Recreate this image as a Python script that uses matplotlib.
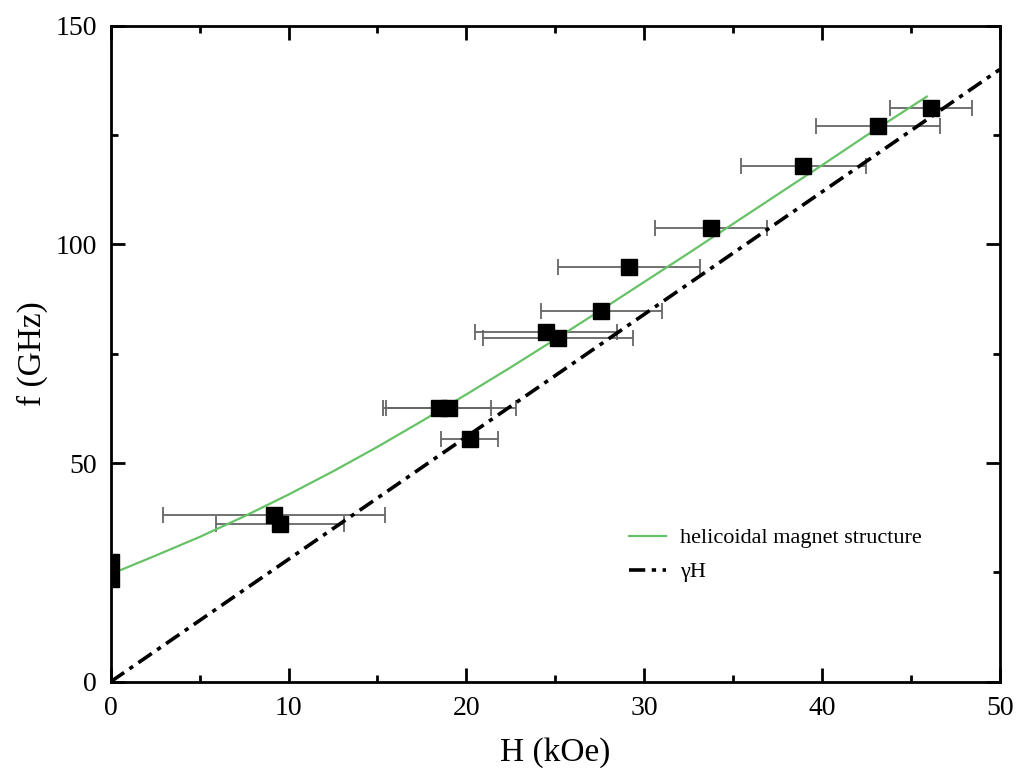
import numpy as np
import matplotlib
matplotlib.use("Agg")
import matplotlib.pyplot as plt

plt.rcParams['font.family'] = ['Liberation Serif', 'DejaVu Serif']

# measured points
H = [0, 0, 9.2, 9.5, 18.45, 19.05, 20.2, 24.5, 25.15, 27.6, 29.15, 33.75, 38.95, 43.15, 46.15]
f = [27.3, 23.4, 38.2, 36.1, 62.7, 62.7, 55.6, 79.9, 78.6, 84.8, 94.9, 103.8, 118.0, 127.0, 131.2]
H_err = [0, 0, 6.25, 3.6, 2.95, 3.75, 1.6, 4.0, 4.2, 3.4, 4.0, 3.15, 3.5, 3.5, 2.3]

# helicoidal structure curve
H_fit = [0, 2.5, 5, 7.5, 10, 12.5, 15, 17.5, 20, 22.5, 25, 27.5, 30, 32.5, 35, 37.5, 40, 42.5, 45.9]
f_fit = [24.6, 28.8, 33.1, 37.8, 42.8, 48.1, 53.7, 59.6, 65.7, 71.9, 78.3, 84.8, 91.4,
         98.0, 104.7, 111.4, 118.1, 124.9, 133.8]

# gamma*H line
H_line = [0, 50]
f_line = [0, 140]

fig = plt.figure(figsize=(10.16, 7.8), dpi=100)
ax = fig.add_axes([0.109, 0.126, 0.875, 0.841])

ax.errorbar(H, f, xerr=H_err, fmt='none', ecolor='#666666', elinewidth=1.3,
            capsize=6, capthick=1.3, zorder=2)
ax.plot(H, f, 's', color='black', markersize=11, zorder=4)
ax.plot(H_fit, f_fit, color='#66c266', lw=1.6, zorder=3,
        label='helicoidal magnet structure')
ax.plot(H_line, f_line, color='black', lw=2.6, linestyle=(0, (4.5, 1.8, 1.2, 1.8)),
        zorder=3, label='γH')

ax.set_xlim(0, 50)
ax.set_ylim(0, 150)
ax.set_xticks(np.arange(0, 51, 10))
ax.set_xticks(np.arange(5, 50, 10), minor=True)
ax.set_yticks([0, 50, 100, 150])
ax.set_yticks([25, 75, 125], minor=True)
ax.tick_params(which='both', direction='in', top=True, right=True, width=2, labelsize=20, pad=10)
ax.tick_params(which='major', length=10)
ax.tick_params(which='minor', length=5)
for s in ax.spines.values():
    s.set_linewidth(2)

ax.set_xlabel('H (kOe)', fontsize=24, labelpad=12)
ax.set_ylabel('f (GHz)', fontsize=24, labelpad=5)

ax.legend(loc='upper left', bbox_to_anchor=(0.56, 0.265), frameon=False, fontsize=16,
          handlelength=1.7, handletextpad=0.6, labelspacing=0.6)

fig.savefig('out.png', dpi=100)
